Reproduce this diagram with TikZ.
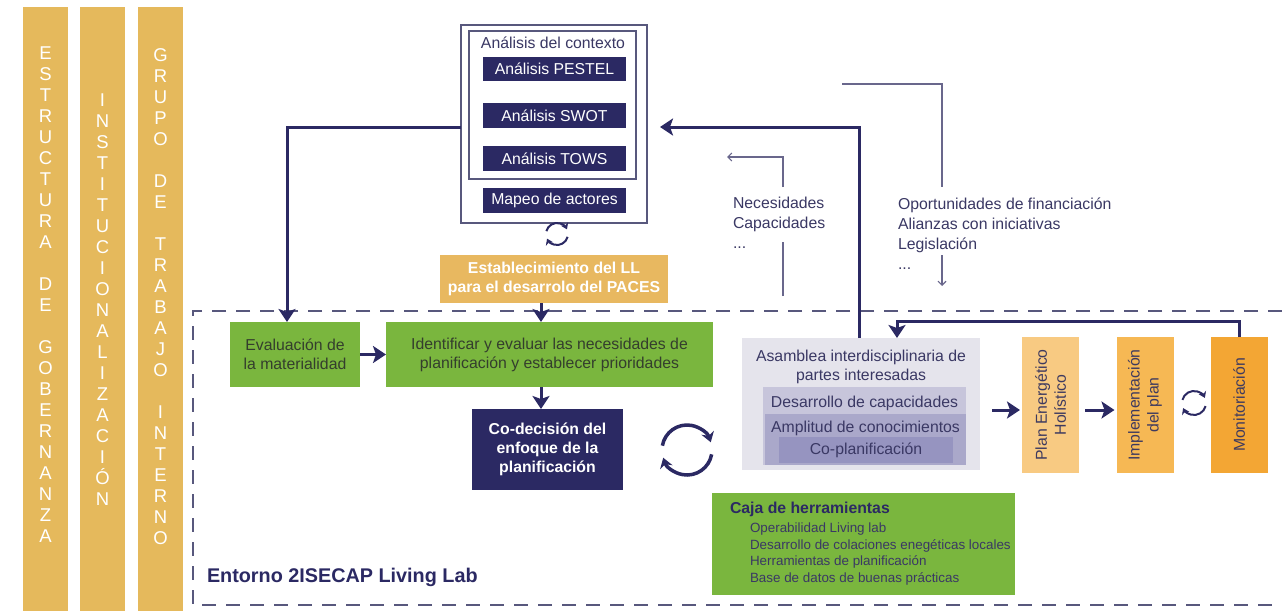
\documentclass[tikz,border=0pt]{standalone}
\usepackage{fontspec}
\setmainfont{Liberation Sans}
\usetikzlibrary{arrows.meta}
\definecolor{navy}{RGB}{43,41,99}
\definecolor{gold}{RGB}{229,185,92}
\definecolor{estabc}{RGB}{232,184,96}
\definecolor{grn}{RGB}{122,182,62}
\definecolor{grntxt}{RGB}{52,62,45}
\definecolor{planc}{RGB}{248,202,130}
\definecolor{implc}{RGB}{246,184,84}
\definecolor{monc}{RGB}{243,166,52}
\definecolor{asamc}{RGB}{229,228,236}
\definecolor{desac}{RGB}{199,197,219}
\definecolor{amplc}{RGB}{170,168,202}
\definecolor{coplc}{RGB}{150,148,192}
\definecolor{framec}{RGB}{88,88,125}
\definecolor{thinc}{RGB}{105,103,140}
\definecolor{txtc}{RGB}{58,56,100}
\definecolor{rottxt}{RGB}{62,58,95}
\newcommand\fs[2]{\fontsize{#1}{#2}\selectfont}
\begin{document}
\begin{tikzpicture}[x=1pt,y=-1pt,
  every node/.style={inner sep=0pt,outer sep=0pt},
  heavy/.style={draw=navy,line width=3pt,-{Stealth[length=13pt,width=17pt,inset=3pt]}},
  thinln/.style={draw=thinc,line width=1.1pt},
  thinarr/.style={thinln,-{Straight Barb[length=4pt,width=8pt]}},
  barbox/.style={fill=gold,minimum width=45pt,minimum height=604pt},
  barlbl/.style={text=white,font=\fs{18.5}{21},align=center},
  nbox/.style={fill=navy,text=white,minimum width=143pt,minimum height=25pt,font=\fs{15.8}{19}},
  gbox/.style={fill=grn,text=grntxt,minimum height=65pt,font=\fs{15.8}{19},align=center},
  obox/.style={minimum width=57pt,minimum height=136pt},
  rotlbl/.style={rotate=90,text=rottxt,font=\fs{15.8}{19},align=center},
  freetxt/.style={text=txtc,font=\fs{15.8}{20},align=left,anchor=north west},
  cycbig/.style={draw=navy,line width=3.5pt,-{Stealth[length=10pt,width=13pt]}},
  cycsmall/.style={draw=navy,line width=2pt,-{Stealth[length=6pt,width=8pt]}},
  dashframe/.style={draw=framec,line width=1.4pt,dash pattern=on 14pt off 10pt}
]
\useasboundingbox[fill=white] (0,0) rectangle (1282,611);

% vertical bars
\node[barbox] (bar1) at (45.5,309) {};
\node[barbox] (bar2) at (102.5,309) {};
\node[barbox] (bar3) at (160.5,309) {};
\node[barlbl] (lbl1) at (45.5,295) {E\\S\\T\\R\\U\\C\\T\\U\\R\\A\\~\\D\\E\\~\\G\\O\\B\\E\\R\\N\\A\\N\\Z\\A};
\node[barlbl] (lbl2) at (102.5,300) {I\\N\\S\\T\\I\\T\\U\\C\\I\\O\\N\\A\\L\\I\\Z\\A\\C\\I\\Ó\\N};
\node[barlbl] (lbl3) at (160.5,297) {G\\R\\U\\P\\O\\~\\D\\E\\~\\T\\R\\A\\B\\A\\J\\O\\~\\I\\N\\T\\E\\R\\N\\O};

% dashed living-lab frame
\draw[dashframe] (1282,311) -- (193,311) -- (193,605) -- (1282,605);
\node[text=navy,font=\bfseries\fs{19.8}{22},anchor=base west] (entorno) at (207,582) {Entorno 2ISECAP Living Lab};

% context analysis
\node[draw=framec,line width=1.3pt,minimum width=186pt,minimum height=198pt] (ctx) at (554,124) {};
\node[draw=framec,line width=1.3pt,minimum width=167pt,minimum height=148pt] (ctxin) at (552.5,105) {};
\node[text=txtc,font=\fs{15.8}{19},anchor=base] (ctxt) at (553,48.5) {Análisis del contexto};
\node[nbox,minimum height=24pt] (pestel) at (554.5,69) {Análisis PESTEL};
\node[nbox] (swot) at (554.5,115.5) {Análisis SWOT};
\node[nbox] (tows) at (554.5,158.5) {Análisis TOWS};
\node[nbox] (mapeo) at (554.5,200.5) {Mapeo de actores};

\coordinate (cy1) at (557,234);
\draw[cycsmall] ([shift={(195:11)}]cy1) arc[start angle=195,end angle=335,radius=11];
\draw[cycsmall] ([shift={(15:11)}]cy1) arc[start angle=15,end angle=155,radius=11];

% establecimiento
\node[fill=estabc,text=white,font=\bfseries\fs{15.8}{18.5},align=center,minimum width=228pt,minimum height=48pt] (estab) at (554,279) {Establecimiento del LL\\para el desarrolo del PACES};

% green boxes
\node[gbox,minimum width=130pt] (eval) at (295,354.5) {Evaluación de\\la materialidad};
\node[gbox,minimum width=327pt] (ident) at (549.5,354.5) {Identificar y evaluar las necesidades de\\planificación y establecer prioridades};
\node[fill=navy,text=white,font=\bfseries\fs{15.8}{19},align=center,minimum width=151pt,minimum height=81pt] (codec) at (547.5,449.5) {Co-decisión del\\enfoque de la\\planificación};

\coordinate (ax) at (541,0);
\draw[heavy] (ax |- estab.south) -- (ax |- ident.north);
\draw[heavy] (eval.east) -- (ident.west);
\draw[heavy] (ax |- ident.south) -- (ax |- codec.north);
\draw[heavy] ([yshift=-3pt]ctx.west) -| ([xshift=-8pt]eval.north);

\coordinate (cy2) at (687,450);
\draw[cycbig] ([shift={(190:25)}]cy2) arc[start angle=190,end angle=342,radius=25];
\draw[cycbig] ([shift={(10:25)}]cy2) arc[start angle=10,end angle=162,radius=25];

% asamblea
\node[fill=asamc,minimum width=238pt,minimum height=132pt] (asam) at (861,404) {};
\node[fill=desac,minimum width=203pt,minimum height=78pt] (desa) at (864.5,426) {};
\node[fill=amplc,minimum width=201pt,minimum height=51pt] (ampl) at (865.5,439.5) {};
\node[fill=coplc,minimum width=174pt,minimum height=26pt,text=txtc,font=\fs{15.8}{19}] (copl) at (866,450) {Co-planificación};
\node[text=txtc,font=\fs{15.8}{18.5},align=center,anchor=north] (asamt) at (861,350.5) {Asamblea interdisciplinaria de\\partes interesadas};
\node[text=txtc,font=\fs{15.8}{19},anchor=base] (desat) at (864.5,407.5) {Desarrollo de capacidades};
\node[text=txtc,font=\fs{15.8}{19},anchor=base] (amplt) at (865.5,432.5) {Amplitud de conocimientos};

% orange column boxes
\node[obox,fill=planc] (plan) at (1050.5,405) {};
\node[obox,fill=implc] (impl) at (1145,405) {};
\node[obox,fill=monc] (mon) at (1239,405) {};
\node[rotlbl] (plant) at (plan) {Plan Energético\\Holístico};
\node[rotlbl] (implt) at (impl) {Implementación\\del plan};
\node[rotlbl] (mont) at (mon) {Monitoriación};

\draw[heavy,shorten <=12pt,shorten >=2pt] ([yshift=-6pt]asam.east) -- ([yshift=-6pt]asam.east -| plan.west);
\draw[heavy,shorten <=6pt,shorten >=2pt] ([yshift=-5pt]plan.east) -- ([yshift=-5pt]plan.east -| impl.west);

\coordinate (cy3) at (1194,403);
\draw[cycsmall] ([shift={(195:12)}]cy3) arc[start angle=195,end angle=335,radius=12];
\draw[cycsmall] ([shift={(15:12)}]cy3) arc[start angle=15,end angle=155,radius=12];

% feedback loops
\draw[heavy] (mon.north) -- ++(0,-16) -| ([xshift=36pt]asam.north);
\draw[heavy,shorten >=13pt] ([xshift=-2pt]asam.north) |- ([yshift=-3pt]ctx.east);

% toolbox
\node[fill=grn,minimum width=303pt,minimum height=102pt] (tool) at (863.5,544) {};
\node[text=navy,font=\bfseries\fs{15.8}{19},anchor=base west] (toolt) at (730,513.7) {Caja de herramientas};
\node[text=txtc,font=\fs{13.4}{16.5},align=left,anchor=north west] (tooli) at (750,523) {Operabilidad Living lab\\Desarrollo de colaciones enegéticas locales\\Herramientas de planificación\\Base de datos de buenas prácticas};

% external inputs
\node[freetxt] (nec) at (733,197.5) {Necesidades\\Capacidades\\...};
\coordinate (nA) at (783,296);
\coordinate (nB) at (783,242);
\coordinate (nC) at (783,187);
\coordinate (nD) at (727,157);
\draw[thinln] (nA) -- (nB);
\draw[thinarr] (nC) |- (nD);

\node[freetxt] (opo) at (898,197.5) {Oportunidades de financiación\\Alianzas con iniciativas\\Legislación\\...};
\coordinate (oA) at (842,84);
\coordinate (oB) at (942,187);
\coordinate (oC) at (942,255);
\coordinate (oD) at (942,286);
\draw[thinln] (oA) -| (oB);
\draw[thinarr] (oC) -- (oD);
\end{tikzpicture}
\end{document}
